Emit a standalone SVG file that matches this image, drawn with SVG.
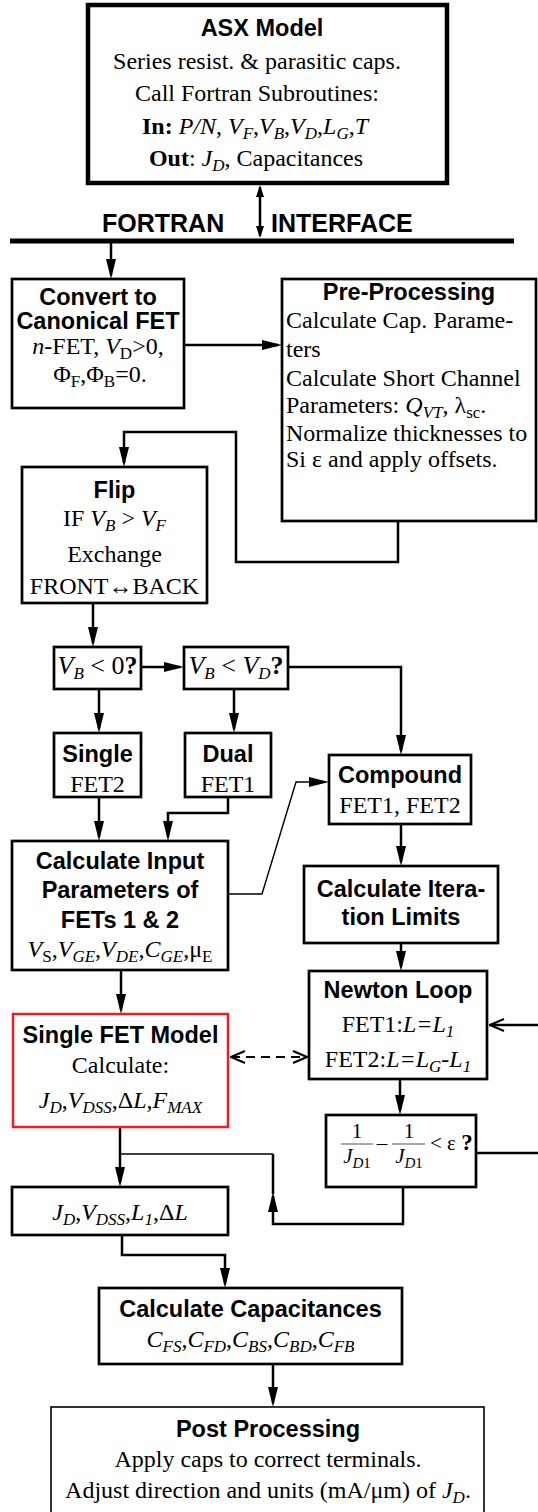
<svg xmlns="http://www.w3.org/2000/svg" width="538" height="1512" viewBox="0 0 538 1512">
  <style>
    .box{fill:#fff;stroke:#000;stroke-width:2.7}
    .heavy{stroke-width:4.5}
    .red{stroke:#ee1c25;stroke-width:2.5}
    .light{stroke-width:1.6}
    .ln{fill:none;stroke:#000;stroke-width:2.5}
    .th{stroke-width:1.4}
    .dash{stroke-dasharray:9 6;stroke-width:2.2}
    .hd{font-family:"Liberation Sans",Arial,sans-serif;font-weight:bold;font-size:23.5px;text-anchor:middle;fill:#000}
    .tx{font-family:"Liberation Serif","Times New Roman",serif;font-size:24px;text-anchor:middle;fill:#000}
    .fr{font-family:"Liberation Serif","Times New Roman",serif;font-size:21px;text-anchor:middle;fill:#000}
    .st{text-anchor:start}
    .i{font-style:italic}
    .b{font-weight:bold}
    .s{font-size:17px}
    .ss{font-size:15px}
    .big{font-size:26px}
  </style>
  <defs>
    <marker id="ah" viewBox="0 0 20 10" markerUnits="userSpaceOnUse" markerWidth="20" markerHeight="10" refX="16" refY="5" orient="auto">
      <path d="M0,0L20,5L0,10z" fill="#000"/>
    </marker>
    <marker id="ahs" viewBox="0 0 12 8" markerUnits="userSpaceOnUse" markerWidth="12" markerHeight="8" refX="10" refY="4" orient="auto-start-reverse">
      <path d="M0,0L12,4L0,8z" fill="#000"/>
    </marker>
    <marker id="ao" viewBox="0 0 16 14" markerUnits="userSpaceOnUse" markerWidth="16" markerHeight="14" refX="15" refY="7" orient="auto-start-reverse">
      <path d="M1,1L15,7L1,13" fill="none" stroke="#000" stroke-width="2"/>
    </marker>
  </defs>

  <rect width="538" height="1512" fill="#fff"/>

  <!-- interface bar -->
  <g id="interface">
    <line x1="10" y1="241" x2="514" y2="241" stroke="#000" stroke-width="5"/>
    <text class="hd st" x="102" y="232" style="font-size:25px">FORTRAN</text>
    <text class="hd st" x="271" y="232" style="font-size:25px">INTERFACE</text>
  </g>

  <!-- connectors -->
  <g id="connectors">
    <path class="ln" d="M260,187V236" stroke-width="2" marker-start="url(#ahs)" marker-end="url(#ahs)"/>
    <path class="ln" d="M111,243V275" marker-end="url(#ah)"/>
    <path class="ln" d="M184,345H278" marker-end="url(#ah)"/>
    <path class="ln" d="M398,521V562H236V432H124V463" marker-end="url(#ah)"/>
    <path class="ln" d="M93,603V643" marker-end="url(#ah)"/>
    <path class="ln" d="M141,667H180" marker-end="url(#ah)"/>
    <path class="ln" d="M288,667H401V751" marker-end="url(#ah)"/>
    <path class="ln" d="M99,689V729" marker-end="url(#ah)"/>
    <path class="ln" d="M234,689V729" marker-end="url(#ah)"/>
    <path class="ln" d="M99,797V837" marker-end="url(#ah)"/>
    <path class="ln" d="M228,797V813H168V837" marker-end="url(#ah)"/>
    <path class="ln th" d="M228,894H262L296,782H325" marker-end="url(#ah)"/>
    <path class="ln" d="M401,824V862" marker-end="url(#ah)"/>
    <path class="ln" d="M401,943V967" marker-end="url(#ah)"/>
    <path class="ln" d="M400,1079V1111" marker-end="url(#ah)"/>
    <path class="ln" d="M121,970V1010" marker-end="url(#ah)"/>
    <path class="ln dash" d="M231,1057H307" marker-start="url(#ao)" marker-end="url(#ao)"/>
    <path class="ln" d="M540,1025H490" stroke-width="2" marker-end="url(#ao)"/>
    <path class="ln" d="M476,1153H540"/>
    <path class="ln" d="M403,1187V1224H273V1196" marker-end="url(#ah)"/>
    <path class="ln" d="M273,1194V1154"/>
    <path class="ln th" d="M273,1154H121"/>
    <path class="ln" d="M120,1127V1183" marker-end="url(#ah)"/>
    <path class="ln" d="M122,1235V1255H225V1284" marker-end="url(#ah)"/>
    <path class="ln" d="M273,1364V1403" marker-end="url(#ah)"/>
  </g>

  <g id="asx-model">
    <rect class="box heavy" x="88" y="5" width="359" height="178"/>
    <text class="hd" x="262" y="36">ASX Model</text>
    <text class="tx" x="257" y="69">Series resist. &amp; parasitic caps.</text>
    <text class="tx" x="257" y="101">Call Fortran Subroutines:</text>
    <text class="tx" x="255" y="134"><tspan class="b">In:</tspan> <tspan class="i">P/N</tspan>, <tspan class="i">V</tspan><tspan class="s i" dy="5">F</tspan><tspan dy="-5">,</tspan><tspan class="i">V</tspan><tspan class="s i" dy="5">B</tspan><tspan dy="-5">,</tspan><tspan class="i">V</tspan><tspan class="s i" dy="5">D</tspan><tspan dy="-5">,</tspan><tspan class="i">L</tspan><tspan class="s i" dy="5">G</tspan><tspan dy="-5">,</tspan><tspan class="i">T</tspan></text>
    <text class="tx" x="256" y="166"><tspan class="b">Out</tspan>: <tspan class="i">J</tspan><tspan class="s i" dy="5">D</tspan><tspan dy="-5">, Capacitances</tspan></text>
  </g>

  <g id="convert">
    <rect class="box" x="12" y="279" width="172" height="129"/>
    <text class="hd" x="98" y="305">Convert to</text>
    <text class="hd" x="98" y="329">Canonical FET</text>
    <text class="tx" x="98" y="354"><tspan class="i">n</tspan>-FET, <tspan class="i">V</tspan><tspan class="s" dy="5">D</tspan><tspan dy="-5">&gt;0,</tspan></text>
    <text class="tx" x="100" y="382">Φ<tspan class="s" dy="5">F</tspan><tspan dy="-5">,Φ</tspan><tspan class="s" dy="5">B</tspan><tspan dy="-5">=0.</tspan></text>
  </g>

  <g id="pre-processing">
    <rect class="box" x="282" y="279" width="254" height="242"/>
    <text class="hd" x="409" y="300">Pre-Processing</text>
    <text class="tx st" x="286" y="328">Calculate Cap. Parame-</text>
    <text class="tx st" x="286" y="357">ters</text>
    <text class="tx st" x="286" y="386">Calculate Short Channel</text>
    <text class="tx st" x="286" y="413">Parameters: <tspan class="i">Q</tspan><tspan class="s i" dy="5">VT</tspan><tspan dy="-5">, λ</tspan><tspan class="s" dy="5">sc</tspan><tspan dy="-5">.</tspan></text>
    <text class="tx st" x="286" y="441">Normalize thicknesses to</text>
    <text class="tx st" x="286" y="467">Si ε and apply offsets.</text>
  </g>

  <g id="flip">
    <rect class="box" x="22" y="467" width="185" height="136"/>
    <text class="hd" x="114.5" y="498">Flip</text>
    <text class="tx" x="114.5" y="526">IF <tspan class="i">V</tspan><tspan class="s i" dy="5">B</tspan><tspan dy="-5"> &gt; </tspan><tspan class="i">V</tspan><tspan class="s i" dy="5">F</tspan></text>
    <text class="tx" x="114.5" y="562">Exchange</text>
    <text class="tx" x="114.5" y="594">FRONT↔BACK</text>
  </g>

  <g id="test-vb-neg">
    <rect class="box" x="54" y="647" width="87" height="42"/>
    <text class="tx big" x="97.5" y="674"><tspan class="i">V</tspan><tspan class="s i" dy="5">B</tspan><tspan dy="-5"> &lt; 0</tspan><tspan class="b">?</tspan></text>
  </g>

  <g id="test-vb-vd">
    <rect class="box" x="184" y="647" width="104" height="42"/>
    <text class="tx big" x="236" y="674"><tspan class="i">V</tspan><tspan class="s i" dy="5">B</tspan><tspan dy="-5"> &lt; </tspan><tspan class="i">V</tspan><tspan class="s i" dy="5">D</tspan><tspan class="b" dy="-5">?</tspan></text>
  </g>

  <g id="single">
    <rect class="box" x="54" y="733" width="87" height="64"/>
    <text class="hd" x="97.5" y="762">Single</text>
    <text class="tx" x="97.5" y="792">FET2</text>
  </g>

  <g id="dual">
    <rect class="box" x="185" y="733" width="86" height="64"/>
    <text class="hd" x="228" y="762">Dual</text>
    <text class="tx" x="228" y="792">FET1</text>
  </g>

  <g id="compound">
    <rect class="box" x="329" y="755" width="142" height="69"/>
    <text class="hd" x="400" y="783">Compound</text>
    <text class="tx" x="400" y="813">FET1, FET2</text>
  </g>

  <g id="input-params">
    <rect class="box" x="12" y="841" width="216" height="129"/>
    <text class="hd" x="120" y="869">Calculate Input</text>
    <text class="hd" x="120" y="898">Parameters of</text>
    <text class="hd" x="120" y="928">FETs 1 &amp; 2</text>
    <text class="tx" x="120" y="957"><tspan class="i">V</tspan><tspan class="s" dy="5">S</tspan><tspan dy="-5">,</tspan><tspan class="i">V</tspan><tspan class="s i" dy="5">GE</tspan><tspan dy="-5">,</tspan><tspan class="i">V</tspan><tspan class="s i" dy="5">DE</tspan><tspan dy="-5">,</tspan><tspan class="i">C</tspan><tspan class="s i" dy="5">GE</tspan><tspan dy="-5">,μ</tspan><tspan class="s" dy="5">E</tspan></text>
  </g>

  <g id="iteration-limits">
    <rect class="box" x="304" y="866" width="194" height="77"/>
    <text class="hd" x="401" y="897">Calculate Itera-</text>
    <text class="hd" x="401" y="925">tion Limits</text>
  </g>

  <g id="newton-loop">
    <rect class="box" x="309" y="971" width="178" height="108"/>
    <text class="hd" x="398" y="998">Newton Loop</text>
    <text class="tx" x="398" y="1032">FET1:<tspan class="i">L=L</tspan><tspan class="s i" dy="5">1</tspan></text>
    <text class="tx" x="398" y="1067">FET2:<tspan class="i">L=L</tspan><tspan class="s i" dy="5">G</tspan><tspan dy="-5">-</tspan><tspan class="i">L</tspan><tspan class="s i" dy="5">1</tspan></text>
  </g>

  <g id="single-fet-model">
    <rect class="box red" x="13" y="1014" width="215" height="113"/>
    <text class="hd" x="120.5" y="1043">Single FET Model</text>
    <text class="tx" x="120.5" y="1073">Calculate:</text>
    <text class="tx" x="120.5" y="1108"><tspan class="i">J</tspan><tspan class="s i" dy="5">D</tspan><tspan dy="-5">,</tspan><tspan class="i">V</tspan><tspan class="s i" dy="5">DSS</tspan><tspan dy="-5">,Δ</tspan><tspan class="i">L</tspan>,<tspan class="i">F</tspan><tspan class="s i" dy="5">MAX</tspan></text>
  </g>

  <g id="convergence-test">
    <rect class="box" x="326" y="1115" width="150" height="72"/>
    <text class="fr" x="357" y="1138">1</text>
    <line x1="341" y1="1144" x2="373" y2="1144" stroke="#555" stroke-width="1"/>
    <text class="fr" x="357" y="1163"><tspan class="i">J</tspan><tspan class="ss i" dy="5">D</tspan><tspan class="ss">1</tspan></text>
    <text class="fr" x="382" y="1150">–</text>
    <text class="fr" x="409" y="1138">1</text>
    <line x1="392" y1="1144" x2="425" y2="1144" stroke="#555" stroke-width="1"/>
    <text class="fr" x="409" y="1163"><tspan class="i">J</tspan><tspan class="ss i" dy="5">D</tspan><tspan class="ss">1</tspan></text>
    <text class="fr st" x="430" y="1150">&lt; ε <tspan class="b" style="font-size:23px">?</tspan></text>
  </g>

  <g id="results">
    <rect class="box" x="12" y="1187" width="216" height="48"/>
    <text class="tx" x="120" y="1220"><tspan class="i">J</tspan><tspan class="s i" dy="5">D</tspan><tspan dy="-5">,</tspan><tspan class="i">V</tspan><tspan class="s i" dy="5">DSS</tspan><tspan dy="-5">,</tspan><tspan class="i">L</tspan><tspan class="s i" dy="5">1</tspan><tspan dy="-5">,Δ</tspan><tspan class="i">L</tspan></text>
  </g>

  <g id="capacitances">
    <rect class="box" x="99" y="1288" width="303" height="76"/>
    <text class="hd" x="250.5" y="1317">Calculate Capacitances</text>
    <text class="tx" x="250.5" y="1347"><tspan class="i">C</tspan><tspan class="s i" dy="5">FS</tspan><tspan dy="-5">,</tspan><tspan class="i">C</tspan><tspan class="s i" dy="5">FD</tspan><tspan dy="-5">,</tspan><tspan class="i">C</tspan><tspan class="s i" dy="5">BS</tspan><tspan dy="-5">,</tspan><tspan class="i">C</tspan><tspan class="s i" dy="5">BD</tspan><tspan dy="-5">,</tspan><tspan class="i">C</tspan><tspan class="s i" dy="5">FB</tspan></text>
  </g>

  <g id="post-processing">
    <rect class="box light" x="51" y="1407" width="433" height="120"/>
    <text class="hd" x="268" y="1437">Post Processing</text>
    <text class="tx" x="268" y="1467">Apply caps to correct terminals.</text>
    <text class="tx" x="268" y="1498">Adjust direction and units (mA/μm) of <tspan class="i">J</tspan><tspan class="s i" dy="5">D</tspan><tspan dy="-5">.</tspan></text>
  </g>
</svg>
